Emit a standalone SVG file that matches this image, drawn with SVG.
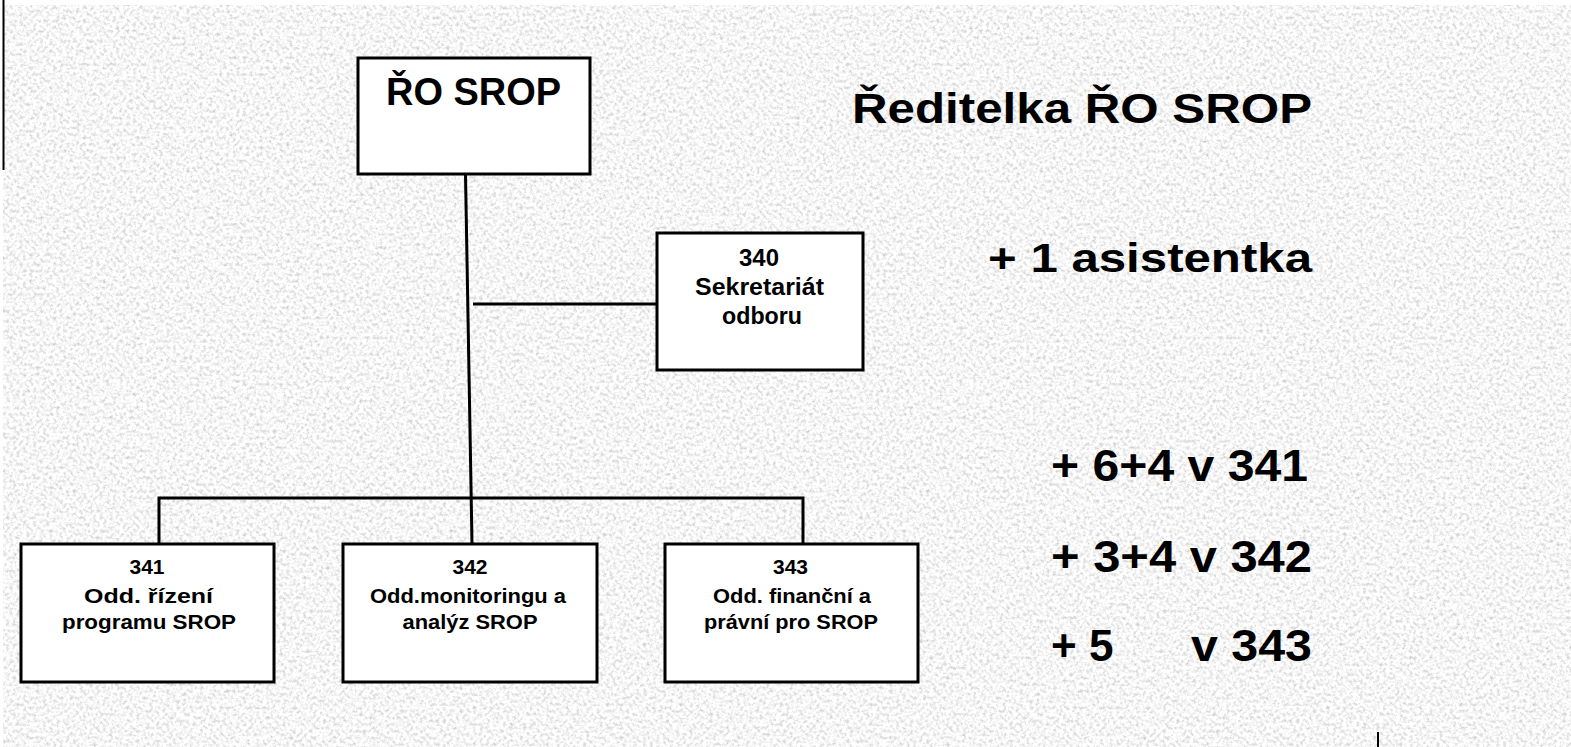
<svg xmlns="http://www.w3.org/2000/svg" width="1571" height="747" viewBox="0 0 1571 747">
<defs>
<filter id="tex" x="0" y="0" width="100%" height="100%">
<feTurbulence type="fractalNoise" baseFrequency="0.3" numOctaves="3" seed="7" result="n"/>
<feColorMatrix in="n" type="matrix" values="0.85 0 0 0 0.5  0.85 0 0 0 0.5  0.85 0 0 0 0.5  0 0 0 0 1"/>
</filter>
<style>
.box{fill:#ffffff;stroke:#000000;stroke-width:3}
.ln{stroke:#000000;stroke-width:3;fill:none}
.t{font-family:"Liberation Sans",Arial,sans-serif;font-weight:bold;fill:#000000}
.c{text-anchor:middle}
.s{font-size:20px}
.m{font-size:23px}
</style>
</defs>
<rect x="0" y="0" width="1571" height="747" fill="#ffffff"/>
<rect x="3" y="5" width="1568" height="742" filter="url(#tex)"/>
<line x1="3.5" y1="0" x2="3.5" y2="170" stroke="#000" stroke-width="2"/>
<line x1="1378" y1="732" x2="1378" y2="747" stroke="#000" stroke-width="2"/>

<g id="connectors">
<line class="ln" x1="465.5" y1="174" x2="472" y2="544"/>
<line class="ln" x1="473" y1="304" x2="657" y2="304"/>
<polyline class="ln" points="159,544 159,498 803,498 803,544"/>
</g>

<g id="node-ro">
<rect class="box" x="358" y="58" width="232" height="116"/>
<text class="t c" x="473.5" y="105" font-size="38" textLength="175" lengthAdjust="spacingAndGlyphs">ŘO SROP</text>
</g>

<g id="node-340">
<rect class="box" x="657" y="233" width="206" height="137"/>
<text class="t c m" x="759" y="266" textLength="40" lengthAdjust="spacingAndGlyphs">340</text>
<text class="t c m" x="759.5" y="295" textLength="129" lengthAdjust="spacingAndGlyphs">Sekretariát</text>
<text class="t c m" x="762" y="324" textLength="80" lengthAdjust="spacingAndGlyphs">odboru</text>
</g>

<g id="node-341">
<rect class="box" x="21" y="544" width="253" height="138"/>
<text class="t c s" x="147" y="574" textLength="35" lengthAdjust="spacingAndGlyphs">341</text>
<text class="t c s" x="148.5" y="603" textLength="129" lengthAdjust="spacingAndGlyphs">Odd. řízení</text>
<text class="t c s" x="149" y="629" textLength="174" lengthAdjust="spacingAndGlyphs">programu SROP</text>
</g>

<g id="node-342">
<rect class="box" x="343" y="544" width="254" height="138"/>
<text class="t c s" x="470" y="574" textLength="35" lengthAdjust="spacingAndGlyphs">342</text>
<text class="t c s" x="468" y="603" textLength="196" lengthAdjust="spacingAndGlyphs">Odd.monitoringu a</text>
<text class="t c s" x="470" y="629" textLength="135" lengthAdjust="spacingAndGlyphs">analýz SROP</text>
</g>

<g id="node-343">
<rect class="box" x="665" y="544" width="253" height="138"/>
<text class="t c s" x="790.5" y="574" textLength="35" lengthAdjust="spacingAndGlyphs">343</text>
<text class="t c s" x="792" y="603" textLength="158" lengthAdjust="spacingAndGlyphs">Odd. finanční a</text>
<text class="t c s" x="791" y="629" textLength="174" lengthAdjust="spacingAndGlyphs">právní pro SROP</text>
</g>

<g id="notes">
<text class="t" x="852" y="123" font-size="42" textLength="460" lengthAdjust="spacingAndGlyphs">Ředitelka ŘO SROP</text>
<text class="t" x="988" y="272" font-size="40" textLength="324" lengthAdjust="spacingAndGlyphs">+ 1 asistentka</text>
<text class="t" x="1051" y="481" font-size="44" textLength="257" lengthAdjust="spacingAndGlyphs">+ 6+4 v 341</text>
<text class="t" x="1051" y="572" font-size="44" textLength="261" lengthAdjust="spacingAndGlyphs">+ 3+4 v 342</text>
<text class="t" x="1051" y="661" font-size="44">+ 5<tspan x="1191" textLength="121" lengthAdjust="spacingAndGlyphs">v 343</tspan></text>
</g>
</svg>
